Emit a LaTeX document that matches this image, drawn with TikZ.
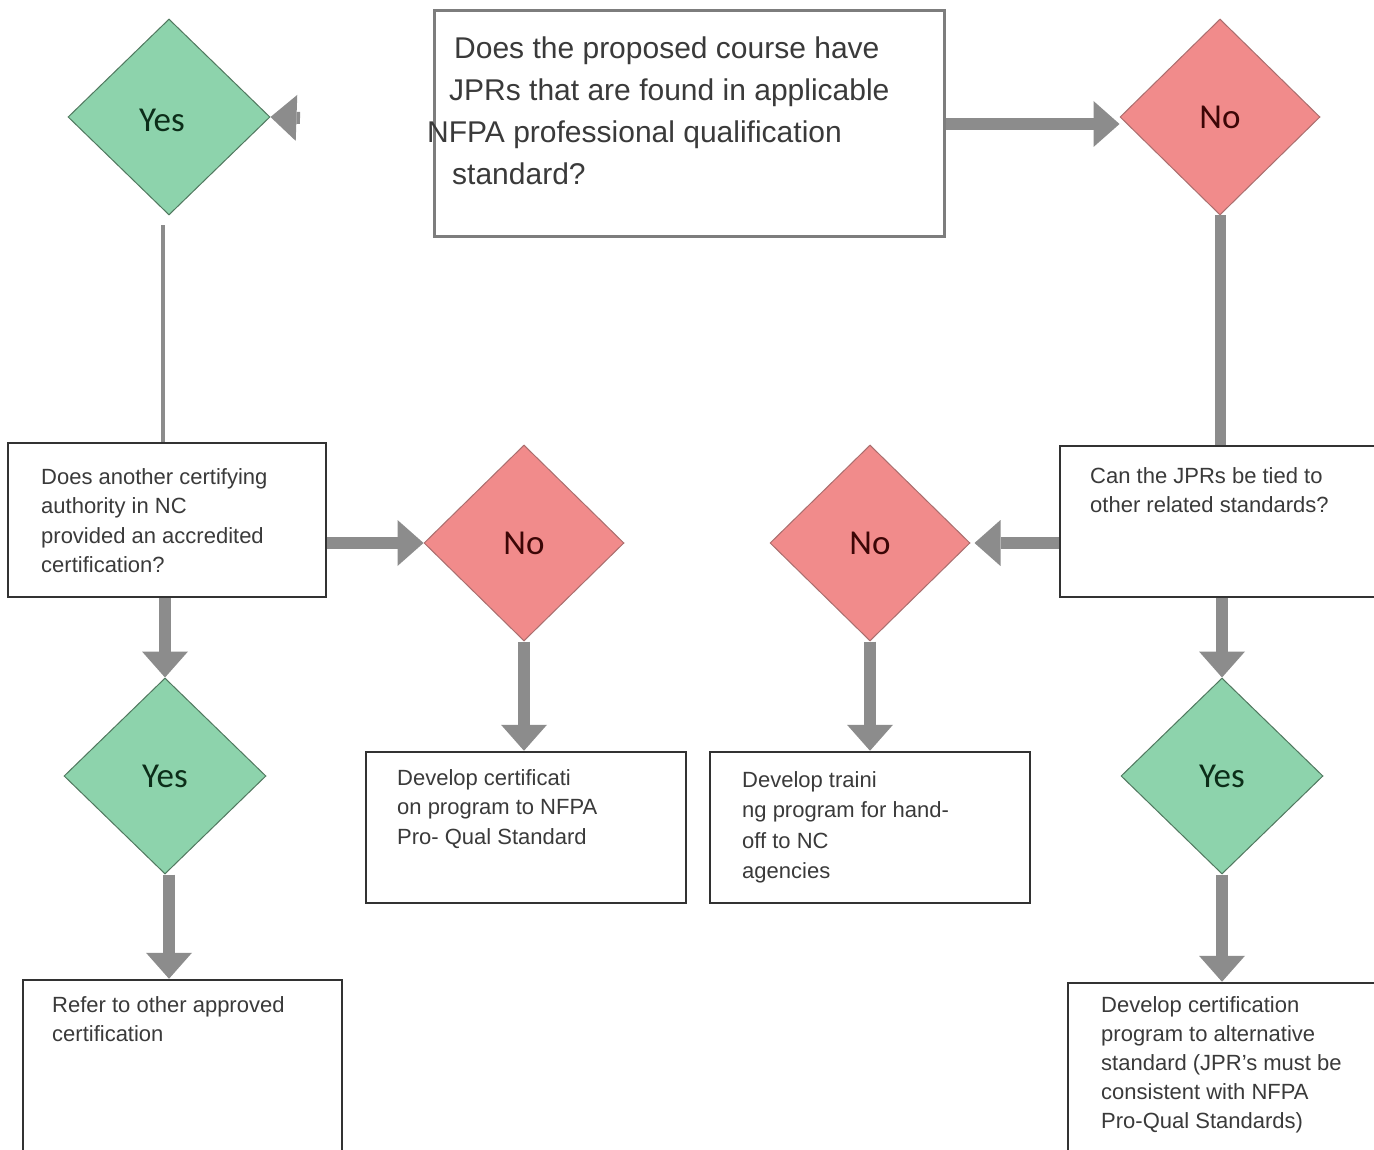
\documentclass[tikz,border=0pt]{standalone}
\usepackage{fontspec}
\setmainfont{Liberation Sans}
\newfontfamily\calib{Carlito}
\usetikzlibrary{shapes.geometric,arrows.meta}
\definecolor{yesfill}{RGB}{141,211,172}
\definecolor{yesline}{RGB}{80,120,95}
\definecolor{yestext}{RGB}{12,45,25}
\definecolor{nofill}{RGB}{241,139,139}
\definecolor{noline}{RGB}{170,110,110}
\definecolor{notext}{RGB}{60,6,6}
\definecolor{arrowgray}{RGB}{140,140,140}
\definecolor{boxline}{RGB}{50,50,50}
\definecolor{topline}{RGB}{125,125,125}
\definecolor{txt}{RGB}{58,58,58}
\tikzset{
  yesd/.style={diamond, fill=yesfill, draw=yesline, line width=1pt, minimum width=202pt, minimum height=196pt, inner sep=0pt, text=yestext, font=\calib\fontsize{35}{37}\selectfont},
  nod/.style={diamond, fill=nofill, draw=noline, line width=1pt, minimum width=200pt, minimum height=196pt, inner sep=0pt, text=notext, font=\calib\fontsize{35}{37}\selectfont},
  qbox/.style={rectangle, draw=boxline, line width=2.5pt, fill=white, inner sep=0pt},
  topbox/.style={rectangle, draw=topline, line width=3pt, fill=white, inner sep=0pt},
  btext/.style={anchor=north west, inner sep=0pt, text=txt, align=left, font=\fontsize{22}{29.5}\selectfont},
  conn/.style={draw=arrowgray, line width=12pt, -{Triangle[length=26pt,width=46pt,line width=0pt]}},
  bar/.style={draw=arrowgray, line width=11pt},
  thinbar/.style={draw=arrowgray, line width=4pt}
}
\begin{document}
\begin{tikzpicture}[x=1pt,y=-1pt]
\useasboundingbox (0,0) rectangle (1374,1150);
\fill[white] (0,0) rectangle (1374,1150);
\clip (0,0) rectangle (1374,1150);

% top question box
\node[topbox, minimum width=510pt, minimum height=226pt] (q1) at (689,124) {};
\node[anchor=north west, inner sep=0pt, text=txt, align=left, font=\fontsize{30}{42}\selectfont] (q1t) at (427,37)
 {\hspace*{27pt}Does the proposed course have\\
  \hspace*{22pt}JPRs that are found in applicable\\
  NFPA professional qualification\\
  \hspace*{25pt}standard?};

% top diamonds
\node[yesd] (yes1) at (169,117) {};
\node[font=\calib\fontsize{35}{37}\selectfont, text=yestext, inner sep=0pt] (yes1t) at (162,120) {Yes};
\node[nod] (no1) at (1220,117) {No};

% middle boxes
\node[qbox, minimum width=318pt, minimum height=154pt] (b2) at (167,520) {};
\node[btext] (b2t) at (41,468) {Does another certifying\\authority in NC\\provided an accredited\\certification?};

\node[qbox, minimum width=330pt, minimum height=151pt] (b3) at (1225,521.5) {};
\node[btext] (b3t) at (1090,467) {Can the JPRs be tied to\\other related standards?};

\node[nod] (no2) at (524,543) {No};
\node[nod] (no3) at (870,543) {No};

% lower boxes
\node[qbox, minimum width=320pt, minimum height=151pt] (b4) at (526,827.5) {};
\node[btext] (b4t) at (397,769) {Develop certificati\\on program to NFPA\\Pro- Qual Standard};

\node[qbox, minimum width=320pt, minimum height=151pt] (b5) at (870,827.5) {};
\node[btext, font=\fontsize{22}{30.5}\selectfont] (b5t) at (742,771) {Develop traini\\ng program for hand-\\off to NC\\agencies};

\node[yesd] (yes2) at (165,776) {Yes};
\node[yesd] (yes3) at (1222,776) {Yes};

% bottom boxes
\node[qbox, minimum width=319pt, minimum height=190pt] (b7) at (182.5,1075) {};
\node[btext] (b7t) at (52,996) {Refer to other approved\\certification};

\node[qbox, minimum width=340pt, minimum height=200pt] (b6) at (1238,1083) {};
\node[btext, font=\fontsize{22}{29}\selectfont] (b6t) at (1101,996) {Develop certification\\program to alternative\\standard (JPR's must be\\consistent with NFPA\\Pro-Qual Standards)};

% connectors
\coordinate (ystub) at (300,118);
\draw[conn] (ystub) -- (yes1.east);
\draw[conn] (q1.east) -- (q1.east -| no1.west);
\draw[thinbar] ([xshift=-6pt,yshift=-10pt]yes1.south) -- ([xshift=-6pt]yes1.south |- b2.north);
\draw[bar] (no1.south) -- (no1.south |- b3.north);
\draw[conn] (b2.east |- no2.west) -- (no2.west);
\draw[conn] (b3.west |- no3.east) -- ([xshift=4pt]no3.east);
\draw[conn] (no2.south) -- (no2.south |- b4.north);
\draw[conn] (no3.south) -- (no3.south |- b5.north);
\draw[conn] (b2.south -| yes2.north) -- (yes2.north);
\draw[conn] (b3.south -| yes3.north) -- (yes3.north);
\draw[conn] ([xshift=4pt]yes2.south) -- ([xshift=4pt]yes2.south |- b7.north);
\draw[conn] (yes3.south) -- (yes3.south |- b6.north);
\end{tikzpicture}
\end{document}
